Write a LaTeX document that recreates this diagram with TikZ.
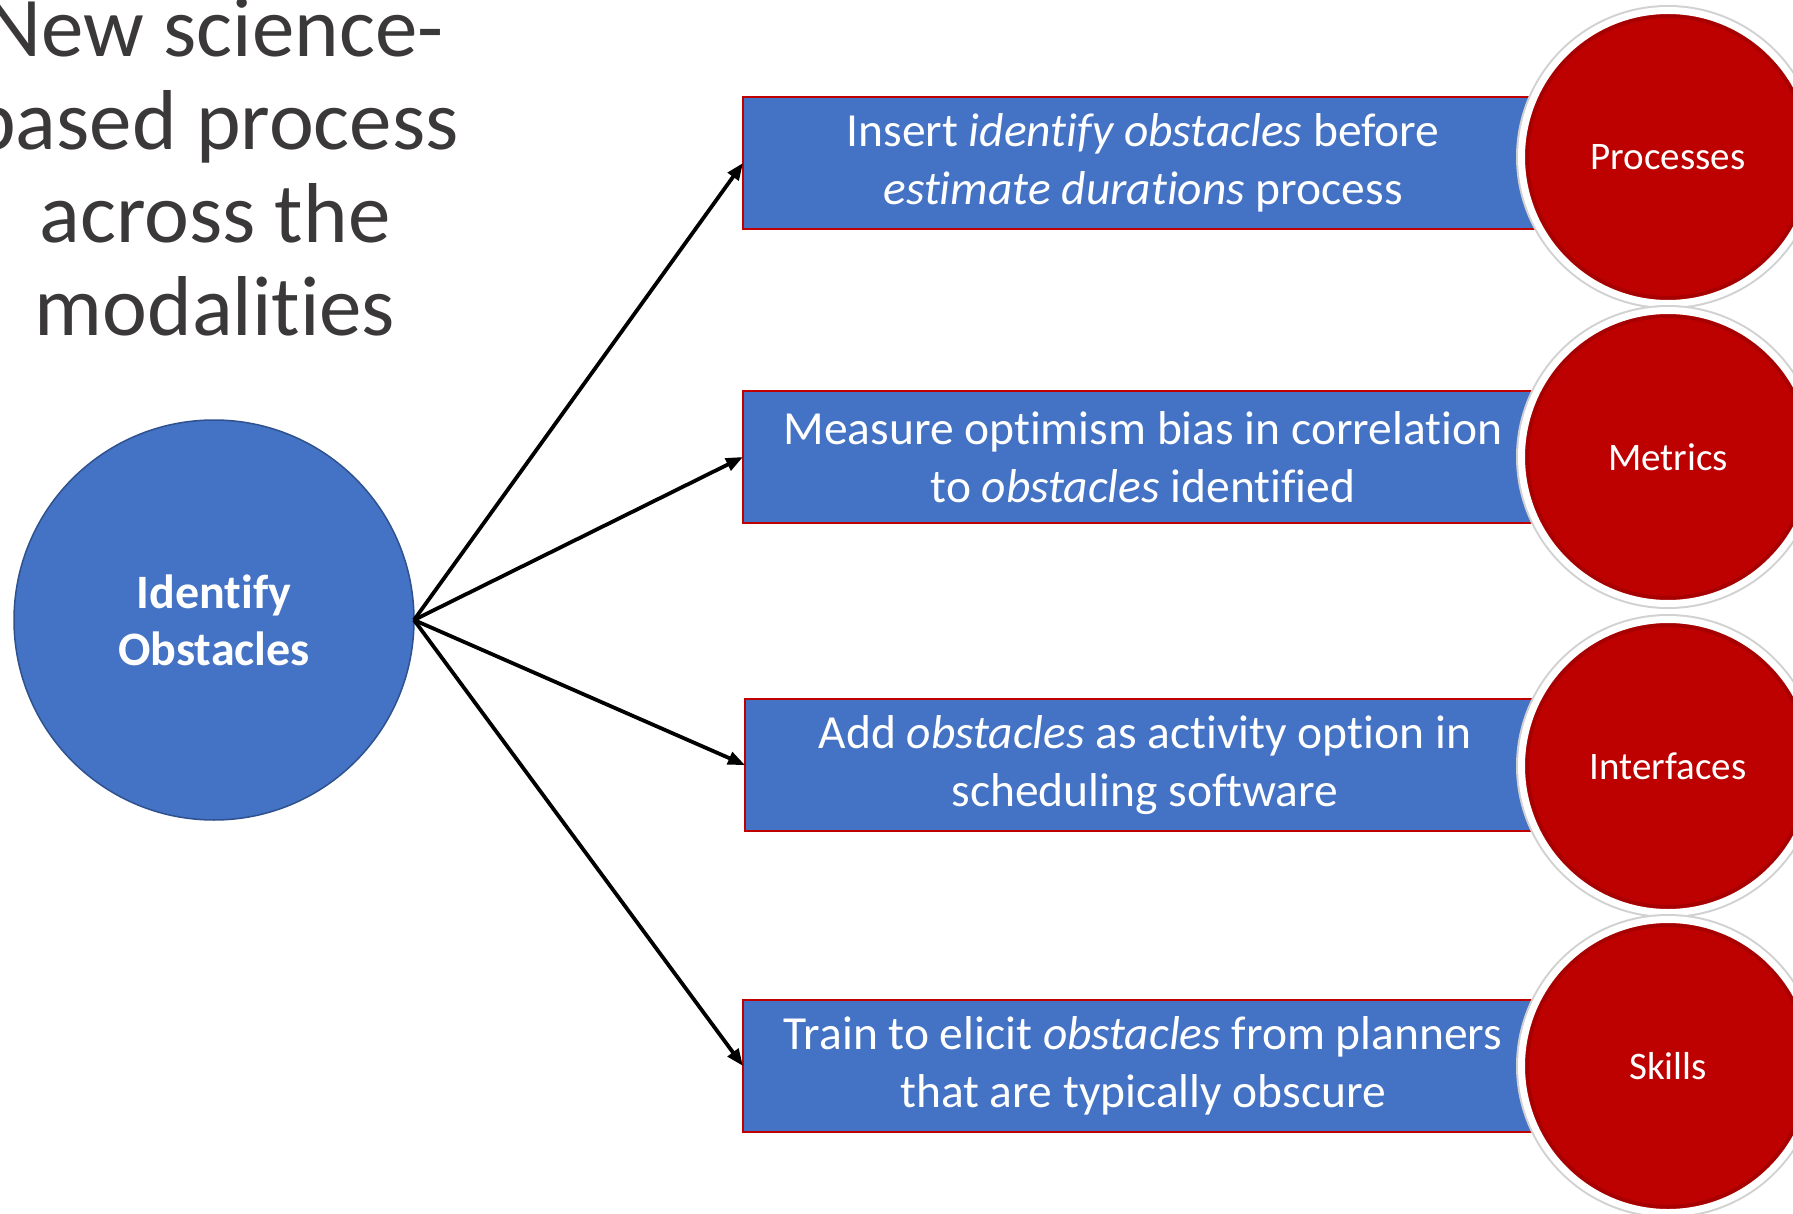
\documentclass[tikz,border=0pt]{standalone}
\usepackage{fontspec}
\setmainfont{Carlito}[Ligatures=NoCommon]
\usetikzlibrary{arrows.meta}
\definecolor{boxblue}{HTML}{4472C4}
\definecolor{hubedge}{HTML}{2F528F}
\definecolor{boxred}{HTML}{C00000}
\definecolor{discred}{HTML}{BD0000}
\definecolor{titlegray}{HTML}{3A3838}
\tikzset{
  hub/.style={circle, fill=boxblue, draw=hubedge, line width=1.5pt,
    minimum size=400pt, inner sep=0pt, outer sep=0pt, text=white,
    align=center, font=\bfseries\fontsize{48}{57}\selectfont},
  action/.style={rectangle, fill=boxblue, draw=boxred, line width=2pt,
    minimum width=800pt, minimum height=132pt, inner sep=0pt, outer sep=0pt,
    text=white, align=center, font=\fontsize{47.5}{58}\selectfont},
  modality/.style={circle, fill=discred, draw=white, line width=7pt,
    minimum size=293pt, inner sep=0pt, text=white,
    font=\fontsize{39}{44}\selectfont,
    preaction={draw=black!18, line width=11pt},
    path picture={\draw[red!55!black, line width=4pt, opacity=.45]
      (path picture bounding box.center) circle (141);}},
  conn/.style={draw=black, line width=3.8pt,
    -{Triangle[length=17pt,width=13pt]}},
}
\begin{document}
\begin{tikzpicture}[x=1pt,y=-1pt]
\useasboundingbox[fill=white] (0,0) rectangle (1793,1214);

% heading
\node[align=center, text=titlegray, font=\fontsize{85}{93}\selectfont,
  inner sep=0pt] (title) at (215,167)
  {New science-\\based process\\across the\\modalities};

% central idea
\node[hub] (obst) at (214,620) {Identify\\Obstacles};

% actions
\node[action] (a1) at (1143,163) {Insert \textit{identify obstacles} before\\\textit{estimate durations} process};
\node[action] (a2) at (1143,457) {Measure optimism bias in correlation\\to \textit{obstacles} identified};
\node[action] (a3) at (1145,765) {Add \textit{obstacles} as activity option in\\scheduling software};
\node[action] (a4) at (1143,1066) {Train to elicit \textit{obstacles} from planners\\that are typically obscure};

% modalities
\node[modality] (m1) at (1668,157) {Processes};
\node[modality] (m2) at (1668,457) {Metrics};
\node[modality] (m3) at (1668,766) {Interfaces};
\node[modality] (m4) at (1668,1066) {Skills};

% connectors
\draw[conn] (obst.east) -- (a1.west);
\draw[conn] (obst.east) -- (a2.west);
\draw[conn] (obst.east) -- (a3.west);
\draw[conn] (obst.east) -- (a4.west);
\end{tikzpicture}
\end{document}
